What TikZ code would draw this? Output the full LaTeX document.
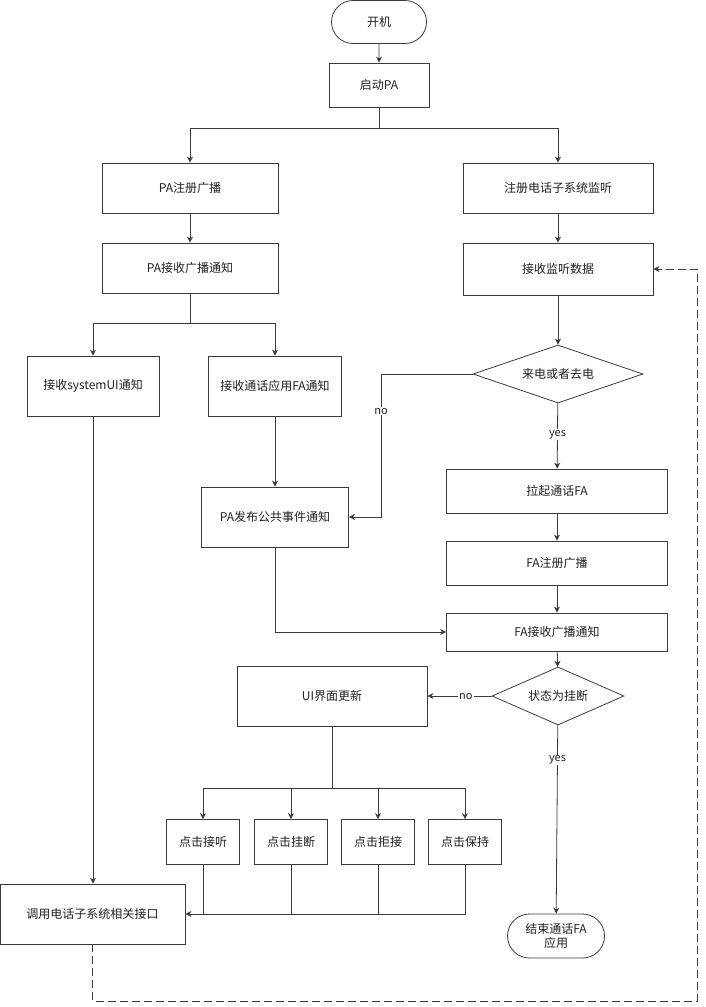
\documentclass[tikz,border=0pt]{standalone}
\usepackage{fontspec}
\setmainfont{Noto Sans CJK SC}
\usetikzlibrary{shapes.geometric,shapes.misc,arrows.meta}
\definecolor{lc}{HTML}{3A3A3A}
\definecolor{tc}{HTML}{202020}
\begin{document}
\begin{tikzpicture}[x=1pt,y=-1pt,
  box/.style={draw=lc,line width=0.8pt,inner sep=2pt,text=tc,align=center,font=\fontsize{12}{15}\selectfont},
  term/.style={box,rounded rectangle},
  dec/.style={box,diamond,aspect=2.6,inner sep=0pt},
  ln/.style={draw=lc,line width=0.8pt},
  arr/.style={ln,-{Stealth[length=6pt,width=6pt]}},
  dsh/.style={arr,dash pattern=on 8pt off 4pt},
  lbl/.style={fill=white,inner sep=1pt,text=tc,font=\fontsize{11}{13}\selectfont}]
\useasboundingbox (0,0) rectangle (705,1007);

\node[term,minimum width=99pt,minimum height=43pt] (kj) at (379,22) {开机};
\node[box,minimum width=100pt,minimum height=44pt] (qd) at (379,85) {启动PA};
\node[box,minimum width=176pt,minimum height=50pt] (pazc) at (190,188) {PA注册广播};
\node[box,minimum width=190pt,minimum height=50pt] (zcjt) at (558,188) {注册电话子系统监听};
\node[box,minimum width=176pt,minimum height=50pt] (pajs) at (190,268) {PA接收广播通知};
\node[box,minimum width=190pt,minimum height=52pt] (jsjt) at (558,269) {接收监听数据};
\node[dec,minimum width=170pt,minimum height=58pt] (ldqd) at (558,374) {来电或者去电};
\node[box,minimum width=132pt,minimum height=60pt] (sysui) at (93,386) {接收systemUI通知};
\node[box,minimum width=133pt,minimum height=60pt] (thfa) at (275,386) {接收通话应用FA通知};
\node[box,minimum width=147pt,minimum height=60pt] (pafb) at (275,517) {PA发布公共事件通知};
\node[box,minimum width=221pt,minimum height=44pt] (lqfa) at (557,491) {拉起通话FA};
\node[box,minimum width=221pt,minimum height=44pt] (fazc) at (557,563) {FA注册广播};
\node[box,minimum width=221pt,minimum height=38pt] (fajs) at (557,632) {FA接收广播通知};
\node[dec,minimum width=132pt,minimum height=58pt] (zt) at (558,696) {状态为挂断};
\node[box,minimum width=190pt,minimum height=60pt] (ui) at (332,696) {UI界面更新};
\node[box,minimum width=73pt,minimum height=45pt] (jt) at (203,842) {点击接听};
\node[box,minimum width=73pt,minimum height=45pt] (gd) at (291,842) {点击挂断};
\node[box,minimum width=73pt,minimum height=45pt] (jj) at (378,842) {点击拒接};
\node[box,minimum width=73pt,minimum height=45pt] (bc) at (465,842) {点击保持};
\node[box,minimum width=185pt,minimum height=60pt] (dy) at (92.5,914) {调用电话子系统相关接口};
\node[term,minimum width=99pt,minimum height=44pt,inner sep=1pt,font=\fontsize{12}{14}\selectfont] (js) at (556,936) {结束通话FA\\应用};

\coordinate (j1) at (379,128);
\coordinate (j2) at (190,323);
\coordinate (j3) at (332,788);
\coordinate (n1) at (381,374);
\coordinate (n2) at (381,517);
\coordinate (d1) at (92.5,1001);
\coordinate (d2) at (697,1001);
\coordinate (d3) at (697,269);

\draw[arr] (kj) -- (qd);
\draw[ln] (qd) -- (j1);
\draw[arr] (j1) -| (pazc);
\draw[arr] (j1) -| (zcjt);
\draw[arr] (pazc) -- (pajs);
\draw[arr] (zcjt) -- (jsjt);
\draw[ln] (pajs) -- (j2);
\draw[arr] (j2) -| (sysui);
\draw[arr] (j2) -| (thfa);
\draw[arr] (jsjt) -- (ldqd);
\draw[arr] (ldqd.west) -- (n1) -- node[pos=0.26,lbl] {no} (n2) -- (pafb.east);
\draw[arr] (ldqd) -- node[pos=0.48,lbl] {yes} (lqfa);
\draw[arr] (thfa) -- (pafb);
\draw[arr] (lqfa) -- (fazc);
\draw[arr] (fazc) -- (fajs);
\draw[arr] (pafb) |- (fajs);
\draw[arr] (fajs) -- (zt);
\draw[arr] (zt) -- node[pos=0.4,lbl] {no} (ui);
\draw[arr] (zt) -- node[pos=0.185,lbl] {yes} (js);
\draw[ln] (ui) -- (j3);
\draw[arr] (j3) -| (jt);
\draw[arr] (j3) -| (gd);
\draw[arr] (j3) -| (jj);
\draw[arr] (j3) -| (bc);
\draw[arr] (sysui) -- (sysui |- dy.north);
\draw[arr] (bc) |- (dy);
\draw[ln] (jt) -- (jt |- dy);
\draw[ln] (gd) -- (gd |- dy);
\draw[ln] (jj) -- (jj |- dy);
\draw[dsh] (dy.south) -- (d1) -- (d2) -- (d3) -- (jsjt.east);
\end{tikzpicture}
\end{document}
